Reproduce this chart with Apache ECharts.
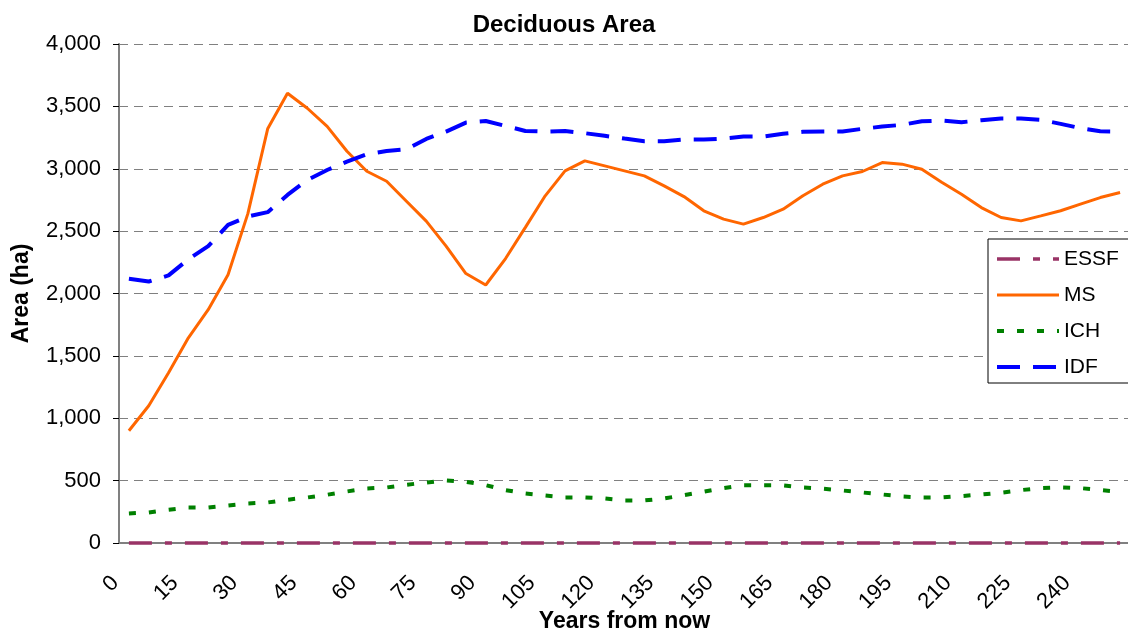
<!DOCTYPE html>
<html>
<head>
<meta charset="utf-8">
<script src="https://cdn.jsdelivr.net/npm/echarts@6/dist/echarts.min.js"></script>
<style>
html,body{margin:0;padding:0;background:#fff;}
#chart{width:1128px;height:635px;}
</style>
</head>
<body>
<div id="chart"></div>
<script>
const years = ["0","5","10","15","20","25","30","35","40","45","50","55","60","65","70","75","80","85","90","95","100","105","110","115","120","125","130","135","140","145","150","155","160","165","170","175","180","185","190","195","200","205","210","215","220","225","230","235","240","245","250"];
const seriesNames = ["ESSF","MS","ICH","IDF"];
const essf = [0,0,0,0,0,0,0,0,0,0,0,0,0,0,0,0,0,0,0,0,0,0,0,0,0,0,0,0,0,0,0,0,0,0,0,0,0,0,0,0,0,0,0,0,0,0,0,0,0,0,0];
const ms = [900,1100,1365,1645,1870,2150,2640,3320,3605,3485,3340,3140,2980,2900,2740,2580,2380,2160,2068,2280,2530,2783,2983,3063,3023,2983,2943,2863,2777,2663,2596,2556,2609,2676,2783,2876,2943,2978,3050,3037,2996,2892,2796,2689,2609,2582,2622,2663,2716,2769,2809];
const ich = [237,245,267,285,285,301,317,325,347,365,387,413,437,445,467,485,502,491,464,424,397,381,365,365,357,341,341,357,384,411,440,462,462,462,445,435,421,405,389,373,365,365,376,389,403,424,440,445,440,424,410];
const idf = [2118,2096,2145,2275,2380,2550,2617,2652,2790,2910,2990,3057,3116,3143,3157,3239,3298,3370,3383,3343,3303,3298,3303,3285,3264,3242,3221,3221,3234,3234,3242,3258,3258,3280,3296,3298,3298,3320,3338,3352,3381,3386,3373,3389,3402,3402,3392,3360,3325,3300,3298];
const yTicks = {min: 0, max: 4000, interval: 500};

const FONT = '"Liberation Sans", Arial, sans-serif';
const styles = {
  ESSF: {color: '#993366', width: 3.5, type: [23, 13, 7, 13]},
  MS:   {color: '#FF6600', width: 3, type: 'solid'},
  ICH:  {color: '#008000', width: 4, type: [7, 13]},
  IDF:  {color: '#0000FF', width: 4, type: [23, 13]}
};
const seriesData = {ESSF: essf, MS: ms, ICH: ich, IDF: idf};

const chart = echarts.init(document.getElementById('chart'), null, {renderer: 'canvas'});
chart.setOption({
  animation: false,
  backgroundColor: '#ffffff',
  title: {
    text: 'Deciduous Area',
    left: 'center',
    top: 8,
    textStyle: {fontFamily: FONT, fontSize: 24, fontWeight: 'bold', color: '#000'}
  },
  legend: {
    orient: 'vertical',
    left: 988,
    top: 239,
    data: seriesNames.map(n => ({name: n, lineStyle: {width: styles[n].width, type: styles[n].type, color: styles[n].color, cap: 'butt'}})),
    itemWidth: 62,
    itemHeight: 24,
    itemGap: 12,
    itemStyle: {opacity: 0},
    padding: [8, 60, 4, 7],
    borderColor: '#000',
    borderWidth: 1,
    backgroundColor: '#fff',
    textStyle: {fontFamily: FONT, fontSize: 21, color: '#000', lineHeight: 24, padding: [0, 0, 0, 0]}
  },
  grid: {left: 119, top: 44, width: 1011, height: 499, outerBoundsMode: 'none', containLabel: false},
  xAxis: {
    type: 'category',
    data: years,
    boundaryGap: true,
    name: 'Years from now',
    nameLocation: 'middle',
    nameGap: 67,
    nameMoveOverlap: false,
    nameTextStyle: {fontFamily: FONT, fontSize: 23, fontWeight: 'bold', color: '#000'},
    axisLine: {lineStyle: {color: '#808080', width: 2}},
    axisTick: {interval: 0, length: 6, lineStyle: {color: '#000', width: 1}},
    axisLabel: {
      interval: 2, rotate: 45, margin: 50,
      verticalAlign: 'bottom', lineHeight: 38,
      fontFamily: FONT, fontSize: 22, color: '#000'
    },
    splitLine: {show: false}
  },
  yAxis: {
    type: 'value',
    min: yTicks.min, max: yTicks.max, interval: yTicks.interval,
    name: 'Area (ha)',
    nameLocation: 'middle',
    nameGap: 86,
    nameRotate: 90,
    nameMoveOverlap: false,
    nameTextStyle: {fontFamily: FONT, fontSize: 23, fontWeight: 'bold', color: '#000'},
    axisLine: {show: true, lineStyle: {color: '#808080', width: 2}},
    axisTick: {show: true, length: 6, lineStyle: {color: '#000', width: 1}},
    axisLabel: {
      margin: 18,
      fontFamily: FONT, fontSize: 22, color: '#000',
      formatter: v => v.toLocaleString('en-US')
    },
    splitLine: {show: true, lineStyle: {color: '#808080', width: 1.2, type: [9, 6]}}
  },
  series: seriesNames.map((n, k) => ({
    name: n, type: 'line', data: seriesData[n], symbol: 'none', showSymbol: false,
    clip: n !== 'ESSF', z: 3 + k,
    lineStyle: {color: styles[n].color, width: styles[n].width, type: styles[n].type, cap: 'butt'},
    itemStyle: {color: styles[n].color}
  }))
});
</script>
</body>
</html>
